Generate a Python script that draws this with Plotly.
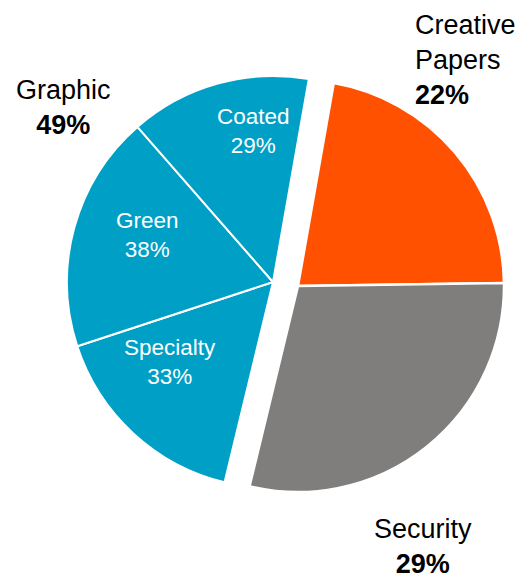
import plotly.graph_objects as go

# Paper market split: two top-level segments plus the Graphic segment broken down
segments = ["Creative Papers", "Security", "Graphic"]
segment_share = [22, 29, 49]  # percent of total

graphic_parts = ["Specialty", "Green", "Coated"]
graphic_part_share = [33, 38, 29]  # percent of Graphic

BLUE = "#00A0C6"
ORANGE = "#FF5100"
GREY = "#7F7E7C"
FONT = "Liberation Sans, Arial, sans-serif"

W, H = 529, 578
R = 206  # pie radius in px


def domain(cx, cy, r):
    return dict(x=[(cx - r) / W, (cx + r) / W], y=[1 - (cy + r) / H, 1 - (cy - r) / H])


graphic_total = segment_share[2]
graphic_values = [graphic_total * p / 100 for p in graphic_part_share]
rest = segment_share[0] + segment_share[1]

fig = go.Figure()

# Creative Papers + Security, with the Graphic share left empty
fig.add_trace(go.Pie(
    values=segment_share[:2] + [graphic_total],
    labels=segments[:2] + ["_graphic"],
    sort=False, direction="clockwise", rotation=10,
    marker=dict(colors=[ORANGE, GREY, "rgba(0,0,0,0)"],
                line=dict(color=["white", "white", "rgba(0,0,0,0)"], width=[2.5, 2.5, 0])),
    textinfo="none", hoverinfo="skip", showlegend=False,
    domain=domain(298, 286, R),
))

# Graphic breakdown, shifted away from the other two segments
fig.add_trace(go.Pie(
    values=[rest] + graphic_values,
    labels=["_rest"] + graphic_parts,
    sort=False, direction="clockwise", rotation=10,
    marker=dict(colors=["rgba(0,0,0,0)", BLUE, BLUE, BLUE],
                line=dict(color=["rgba(0,0,0,0)", "white", "white", "white"], width=[0, 2, 2, 2])),
    textinfo="none", hoverinfo="skip", showlegend=False,
    domain=domain(273, 282, R),
))

annotations = []
# labels inside the Graphic slices
inner_pos = {"Coated": (253, 131), "Green": (147, 235), "Specialty": (170, 362)}
for name, share in zip(graphic_parts, graphic_part_share):
    x, y = inner_pos[name]
    annotations.append(dict(
        x=x / W, y=1 - y / H, xref="paper", yref="paper", showarrow=False,
        text=f"{name}<br>{share}%", align="center", xanchor="center", yanchor="middle",
        font=dict(family=FONT, size=22.5, color="white"),
    ))

# segment labels outside the pie
outer = [
    ("Creative<br>Papers", segment_share[0], 413, 60, "left"),
    ("Security", segment_share[1], 423, 546, "center"),
    ("Graphic", segment_share[2], 63, 108, "center"),
]
for text, share, x, y, anchor in outer:
    annotations.append(dict(
        x=x / W, y=1 - y / H, xref="paper", yref="paper", showarrow=False,
        text=f"{text}<br><b>{share}%</b>", align=anchor, xanchor=anchor, yanchor="middle",
        font=dict(family=FONT, size=27, color="black"),
    ))

fig.update_layout(
    width=W, height=H,
    margin=dict(l=0, r=0, t=0, b=0),
    paper_bgcolor="white", plot_bgcolor="white",
    annotations=annotations,
)

fig.write_html("out.html")
